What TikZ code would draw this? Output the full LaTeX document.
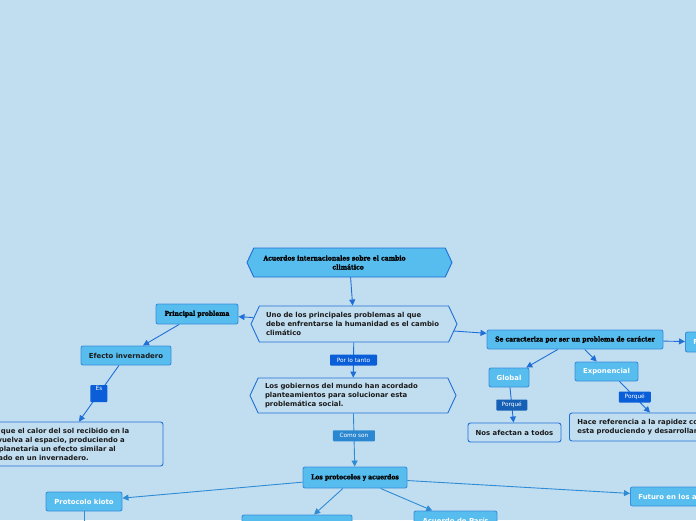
\documentclass[tikz,border=0pt]{standalone}
\usepackage{fontspec}
\setmainfont{DejaVu Sans}
\newfontfamily\headfont[FakeStretch=0.9,FakeBold=1.5]{DejaVu Serif}
\usetikzlibrary{arrows.meta, shapes.symbols}

\definecolor{bgblue}{HTML}{C1DEF1}
\definecolor{boxfill}{HTML}{56BDEE}
\definecolor{boxline}{HTML}{3B8EDB}
\definecolor{edgeblue}{HTML}{1F6FD6}
\definecolor{lowblue}{HTML}{2E8BD4}
\definecolor{tagblue}{HTML}{0A5ED8}
\definecolor{tagmid}{HTML}{2B88D0}
\definecolor{tagdeep}{HTML}{155FB5}
\definecolor{txtdark}{HTML}{1A1A1A}

\begin{document}
\begin{tikzpicture}[
    x=1pt, y=-1pt,
    >={Triangle[length=6pt,width=6pt]},
    font=\fontsize{6.9}{9}\selectfont\bfseries,
    hexa/.style={signal, signal to=west and east, signal pointer angle=130, draw=edgeblue, line width=0.9pt, text=txtdark, align=left, inner xsep=2pt, inner ysep=2pt},
    topic/.style={rectangle, rounded corners=2pt, draw=boxline, line width=0.9pt, fill=boxfill, text=white, inner sep=0pt},
    head/.style={topic, text=black, font=\headfont\fontsize{6.7}{8.5}\selectfont\bfseries},
    plain/.style={rectangle, rounded corners=2.5pt, draw=edgeblue, line width=0.9pt, text=txtdark, align=left},
    tag/.style={rectangle, rounded corners=0.8pt, fill=tagblue, text=white, font=\fontsize{5.8}{6}\selectfont, inner sep=0pt, minimum height=11pt},
    line/.style={->, line width=0.9pt, draw=edgeblue},
    lowline/.style={->, line width=0.9pt, draw=lowblue}
]
\fill[bgblue] (0,0) rectangle (696,520);
\useasboundingbox (0,0) rectangle (696,520);
\clip (0,0) rectangle (696,520);

% centre column
\node[hexa, fill=boxfill, minimum width=205pt, minimum height=29pt, text width=172pt, font=\headfont\fontsize{6.7}{9}\selectfont\bfseries, text=black] (titulo) at (349.5,262.5) {Acuerdos internacionales sobre el cambio\\\hspace*{69pt}climático};
\node[hexa, minimum width=206pt, minimum height=36pt, text width=176pt] (problema) at (354,324) {Uno de los principales problemas al que\\debe enfrentarse la humanidad es el cambio\\climático};
\node[hexa, minimum width=206pt, minimum height=35pt, text width=176pt] (gobiernos) at (353,395.5) {Los gobiernos del mundo han acordado\\planteamientos para solucionar esta\\problemática social.};
\node[head, minimum width=104pt, minimum height=21pt] (protocolos) at (355,477.5) {Los protocolos y acuerdos};

% left branch
\node[head, minimum width=82pt, minimum height=20pt] (principal) at (197,314) {Principal problema};
\node[topic, text=txtdark, minimum width=90pt, minimum height=19pt] (efecto) at (126,355.5) {Efecto invernadero};
\node[plain, text width=182pt, inner xsep=9pt, minimum height=44pt] (impide) at (63,444) {Impide que el calor del sol recibido en la\\Tierra vuelva al espacio, produciendo a\\escala planetaria un efecto similar al\\observado en un invernadero.};

% right branch
\node[head, minimum width=176pt, minimum height=19pt] (caracter) at (575,339.5) {Se caracteriza por ser un problema de carácter};
\node[topic, anchor=west, minimum height=20pt, inner xsep=8pt] (fuerte) at (685,342) {Frecuente};
\node[topic, minimum width=40pt, minimum height=19pt] (global) at (509,377.5) {Global};
\node[topic, minimum width=63pt, minimum height=19pt] (expo) at (606.5,371.5) {Exponencial};
\node[plain, minimum width=93pt, minimum height=19pt, align=center] (todos) at (514.5,432.5) {Nos afectan a todos};
\node[plain, anchor=west, minimum height=28pt, inner xsep=8pt] (rapidez) at (569,427) {Hace referencia a la rapidez con la que se\\esta produciendo y desarrollando};

% bottom row
\node[topic, minimum width=76pt, minimum height=19pt] (kioto) at (84,501.5) {Protocolo kioto};
\node[topic, minimum width=110pt, minimum height=30pt] (cumbre) at (297,530) {};
\node[topic, minimum width=83pt, minimum height=19pt] (paris) at (455.5,520.5) {Acuerdo de París};
\node[topic, anchor=west, minimum height=19pt, inner xsep=8pt] (futuro) at (630,496.5) {Futuro en los acuerdos};
\coordinate (kiotofin) at (84,545);

% connectors
\draw[line] (titulo) -- (problema);
\draw[line] (problema) -- (principal);
\draw[line] (principal) -- (efecto);
\draw[line] (efecto) -- node[tag, minimum width=17pt, text height=5pt, text depth=12pt] {Es} (impide);
\draw[line] (problema) -- node[tag, minimum width=47pt] {Por lo tanto} (gobiernos);
\draw[lowline] (gobiernos) -- node[tag, fill=tagmid, minimum width=42pt, pos=0.42] {Como son} (protocolos);
\draw[line] (problema) -- (caracter);
\draw[line] (caracter) -- (fuerte);
\draw[line] (caracter) -- (global);
\draw[line] (caracter) -- (expo);
\draw[line] (global) -- node[tag, fill=tagdeep, minimum width=31pt] {Porqué} (todos);
\draw[line] ([xshift=13pt]expo.south) -- node[tag, minimum width=32pt] {Porqué} ([xshift=81pt]rapidez.north west);
\draw[lowline] (protocolos) -- (kioto);
\draw[lowline] (protocolos) -- (cumbre);
\draw[lowline] (protocolos) -- (paris);
\draw[lowline] (protocolos) -- (futuro);
\draw[lowline] (kioto) -- (kiotofin);
\end{tikzpicture}
\end{document}
